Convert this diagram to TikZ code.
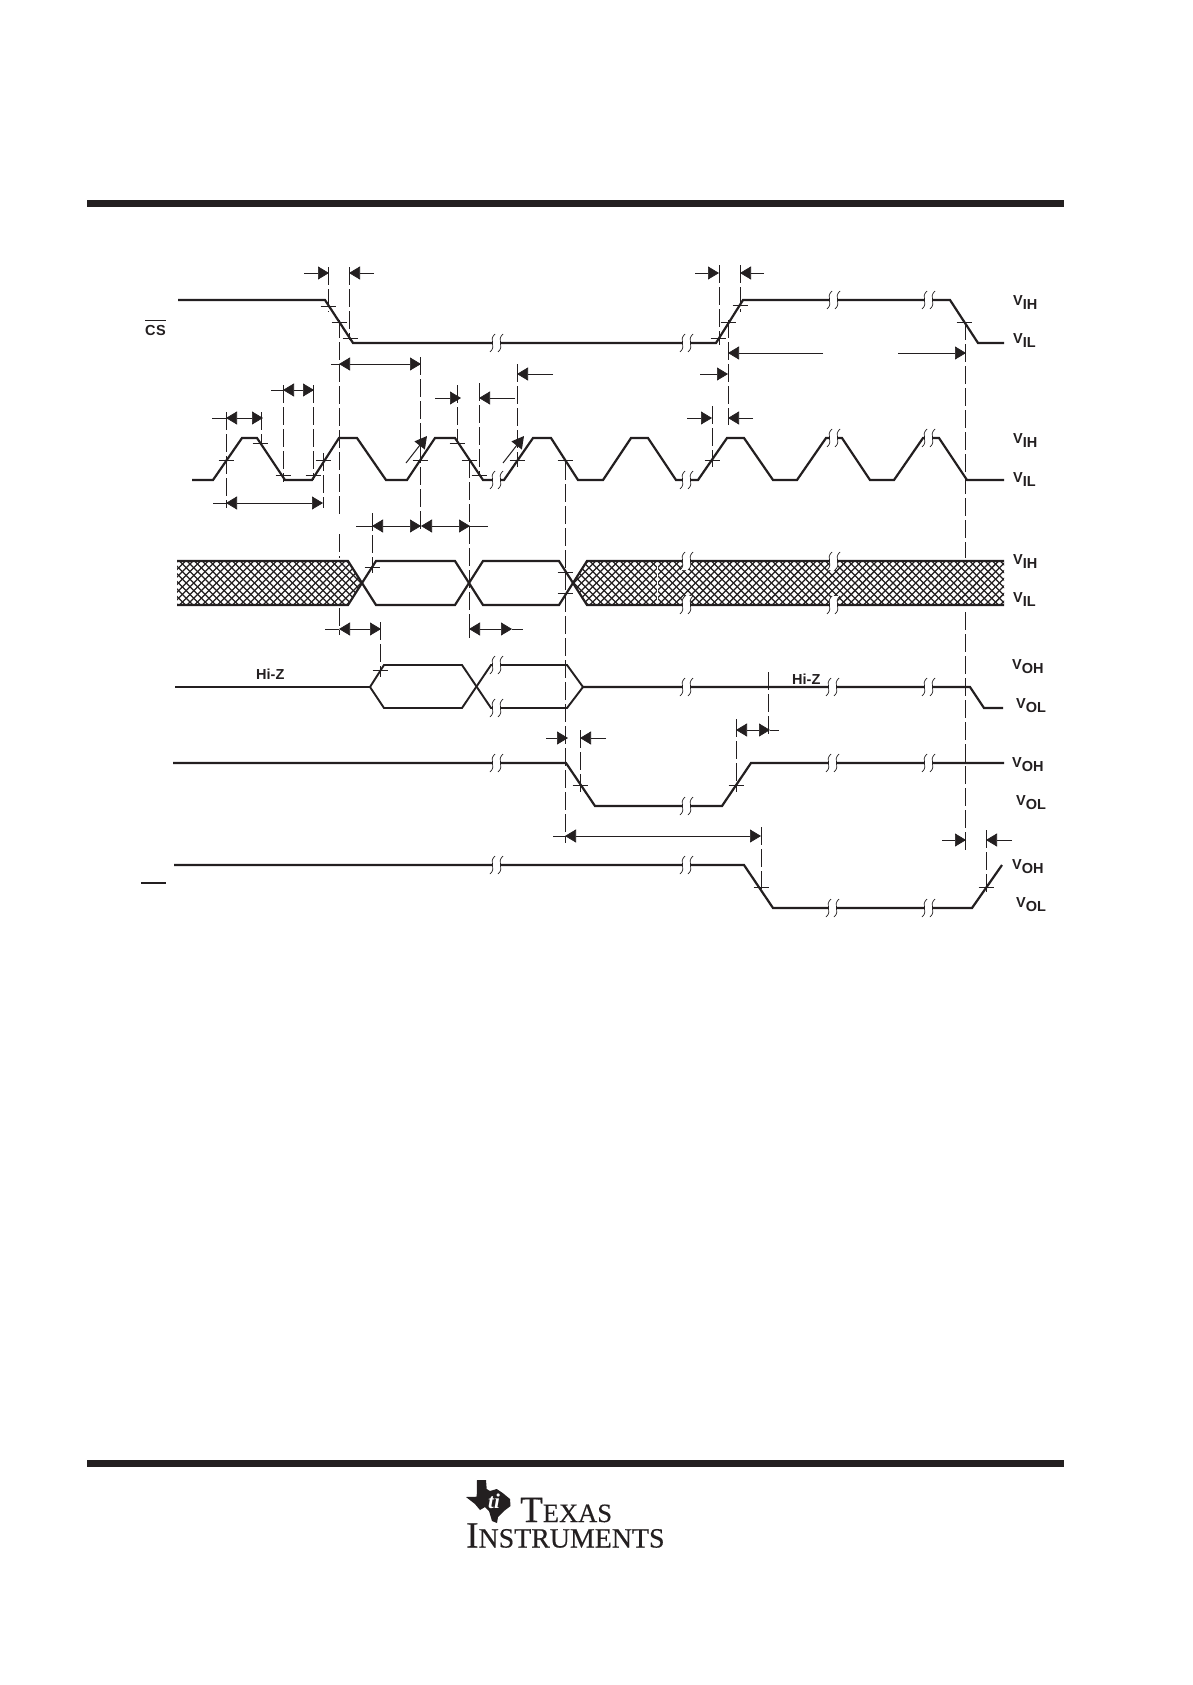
\documentclass[tikz,border=0pt]{standalone}
\usepackage{fontspec}
\setmainfont{Liberation Serif}
\setsansfont{Liberation Sans}
\newfontfamily\logofont[FakeBold=0.35]{Liberation Serif}
\usetikzlibrary{arrows.meta}
\definecolor{ink}{HTML}{231F20}
\tikzset{
  sig/.style={draw=ink,line width=2.2bp,line join=miter},
  thinsig/.style={draw=ink,line width=1.9bp},
  bar/.style={fill=ink,draw=none},
  guide/.style={draw=ink,line width=0.8bp,dash pattern=on 18bp off 4bp},
  dimr/.style={draw=ink,line width=0.7bp,-{Triangle[length=11bp,width=13bp]}},
  diml/.style={draw=ink,line width=0.7bp},
  tick/.style={draw=ink,line width=0.7bp},
  slant/.style={draw=ink,line width=1bp,-{Triangle[length=12bp,width=13bp]}},
  hatchline/.style={draw=ink,line width=1.25bp},
  lab/.style={anchor=base west,inner sep=0pt,font=\sffamily\bfseries\fontsize{14.5bp}{16bp}\selectfont,text=ink},
  logo/.style={anchor=base west,inner sep=0pt,text=ink}
}
% break mark
\newcommand{\brk}[2]{%
  \fill[white] (#1-7,#2+9) .. controls (#1,#2+3) and (#1-9,#2-3) .. (#1-2,#2-9)
    -- (#1+6,#2-9) .. controls (#1-1,#2-3) and (#1+8,#2+3) .. (#1+1,#2+9) -- cycle;
  \draw[draw=ink,line width=0.7bp] (#1-7,#2+9) .. controls (#1,#2+3) and (#1-9,#2-3) .. (#1-2,#2-9);
  \draw[draw=ink,line width=0.7bp] (#1+1,#2+9) .. controls (#1+8,#2+3) and (#1-1,#2-3) .. (#1+6,#2-9);
}
\newcommand{\tk}[2]{\draw[tick] (#1-7.5,#2) -- (#1+7.5,#2);}
\newcommand{\gd}[3]{\draw[guide] (#1,#2) -- (#1,#3);}
\newcommand{\dm}[3]{\draw[dimr] (#2,#1) -- (#3,#1);}
\newcommand{\vlab}[4]{\node[lab] (#1) at (#2,#3) {V\raisebox{-4.5bp}{#4}};}
\begin{document}
\begin{tikzpicture}[x=1bp,y=-1bp]
\useasboundingbox (0,0) rectangle (1192,1685);
\fill[white] (0,0) rectangle (1192,1685);
% page rules
\fill[bar] (87,200) rectangle (1064,207);
\fill[bar] (87,1460) rectangle (1064,1467);
% hatch
\begin{scope}
\clip (177,561) -- (348,561) -- (361,583) -- (348,605) -- (177,605) -- cycle
      (587,561) -- (1004,561) -- (1004,605) -- (587,605) -- (573,583) -- cycle;
\foreach \k in {0,...,130} {
  \draw[hatchline] (100+7.6*\k,550) -- ++(66,66);
  \draw[hatchline] (100+7.6*\k,616) -- ++(66,-66);
}
\draw[white,line width=1bp] (657,564) -- (657,602);
\end{scope}
% CS
\draw[sig] (178,300) -- (325,300) -- (353,343) -- (716,343) -- (743,300) -- (950,300) -- (978,343) -- (1004,343);
% CLK
\draw[sig] (192,480) -- (213,480) -- (242,438) -- (257,438) -- (285,480) -- (312,480) -- (339,438) -- (357,438) -- (386,480) -- (407,480) -- (435,438) -- (455,438) -- (483,480) -- (504,480) -- (533,438) -- (551,438) -- (578,480) -- (603,480) -- (631,438) -- (648,438) -- (676,480) -- (698,480) -- (727,438) -- (744,438) -- (773,480) -- (797,480) -- (826,438) -- (842,438) -- (870,480) -- (894,480) -- (923,438) -- (939,438) -- (967,480) -- (1004,480);
% DATA IN
\draw[sig] (177,561) -- (348,561) -- (376,605) -- (455,605) -- (483,561) -- (559,561) -- (587,605) -- (1004,605);
\draw[sig] (177,605) -- (348,605) -- (376,561) -- (455,561) -- (483,605) -- (559,605) -- (587,561) -- (1004,561);
% DATA OUT
\draw[thinsig] (175,687) -- (370,687) -- (384,665) -- (462,665) -- (491,708) -- (567,708) -- (583,687);
\draw[thinsig] (370,687) -- (384,708) -- (462,708) -- (491,665) -- (567,665) -- (583,687);
\draw[sig] (583,687) -- (970,687) -- (984,708) -- (1003,708);
% third output row
\draw[sig] (173,763) -- (566,763) -- (595,806) -- (722,806) -- (751,763) -- (1004,763);
% last row
\draw[sig] (174,865) -- (744,865) -- (773,908) -- (972,908) -- (1002,865);
% breaks
\brk{497}{343}\brk{687}{343}\brk{834}{300}\brk{929}{300}
\brk{497}{480}\brk{687}{480}\brk{834}{438}\brk{929}{438}
\brk{687}{561}\brk{687}{605}\brk{834}{561}\brk{834}{605}
\brk{497}{665}\brk{497}{708}\brk{687}{687}\brk{833}{687}\brk{929}{687}
\brk{497}{763}\brk{687}{806}\brk{833}{763}\brk{929}{763}
\brk{497}{865}\brk{687}{865}\brk{833}{908}\brk{929}{908}
% guides
\gd{328}{267}{312}\gd{349}{267}{340}\gd{420.5}{357}{533}
\gd{339}{320}{518}\gd{339}{534}{558}\gd{339}{608}{635}
\gd{283}{385}{482}\gd{313}{385}{480}\gd{226}{412}{508}\gd{261}{412}{443}\gd{323}{453}{508}
\gd{372}{513}{573}\gd{469}{460}{632}\gd{469}{620}{638}\gd{457}{385}{443}\gd{479}{383}{473}\gd{517}{364}{467}
\gd{565}{462}{843}\gd{719}{265}{345}\gd{740}{265}{312}\gd{728}{320}{425}
\gd{965.5}{322}{558}\gd{965.5}{612}{852}
\gd{712}{406}{467}\gd{380}{622}{677}\gd{580}{730}{793}\gd{761}{827}{893}\gd{736}{719}{792}
\gd{768}{672}{738}\gd{986}{830}{893}
% dimension arrows
\dm{273}{304}{329}\dm{273}{374}{349}
\dm{273}{695}{719}\dm{273}{764}{740}
\dm{364}{380}{339}\dm{364}{380}{421}\draw[diml] (331,364) -- (339,364);
\dm{390}{298}{283}\dm{390}{298}{314}\draw[diml] (271,390) -- (283,390);
\dm{418}{243}{226}\dm{418}{243}{263}\draw[diml] (212,418) -- (226,418);
\dm{503}{275}{226}\dm{503}{275}{323}\draw[diml] (213,503) -- (226,503);
\dm{526}{396}{372}\dm{526}{396}{421}\dm{526}{445}{421}\dm{526}{445}{470}
\draw[diml] (356,526) -- (372,526);\draw[diml] (470,526) -- (488,526);
\dm{398}{435}{461}\dm{398}{515}{479}
\dm{374}{553}{517}\dm{374}{700}{728}
\dm{353}{823}{728}\dm{353}{898}{966}
\dm{418}{687}{712}\dm{418}{753}{728}
\dm{629}{360}{339}\dm{629}{360}{381}\draw[diml] (325,629) -- (339,629);
\dm{629}{490}{469}\dm{629}{490}{512}\draw[diml] (512,629) -- (523,629);
\dm{738}{546}{568}\dm{738}{606}{580}
\dm{836}{660}{565}\dm{836}{660}{761}\draw[diml] (553,836) -- (565,836);
\dm{730}{752}{736}\dm{730}{752}{770}\draw[diml] (770,730) -- (779,730);
\dm{840}{942}{966}\dm{840}{1012}{986}
% slanted arrows
\draw[slant] (406,463) -- (427,436);
\draw[slant] (503,463) -- (524,436);
% ticks
\tk{328}{306}\tk{339}{322}\tk{350}{338}\tk{718}{338}\tk{728}{322}\tk{740}{305}\tk{964}{322}
\tk{226}{460}\tk{260}{443}\tk{283}{475}\tk{313}{475}\tk{323}{460}\tk{420}{460}\tk{457}{443}
\tk{469}{460}\tk{479}{475}\tk{517}{460}\tk{565}{460}\tk{712}{460}
\tk{372}{567}\tk{565}{572}\tk{565}{593}\tk{380}{670}
\tk{580}{785}\tk{736}{785}\tk{761}{887}\tk{986}{887}
% labels
\node[lab] (cs) at (145,335) {C\kern0.5bp S};
\draw[draw=ink,line width=1.2bp] (145,320.5) -- (166,320.5);
\draw[draw=ink,line width=1.2bp] (141,883) -- (166,883);
\node[lab] (hizl) at (256,679) {Hi-Z};
\node[lab] (hizr) at (792,684) {Hi-Z};
\vlab{a1}{1013}{305}{IH}\vlab{a2}{1013}{343}{IL}
\vlab{b1}{1013}{443}{IH}\vlab{b2}{1013}{482}{IL}
\vlab{c1}{1013}{564}{IH}\vlab{c2}{1013}{602}{IL}
\vlab{d1}{1012}{669}{OH}\vlab{d2}{1016}{708}{OL}
\vlab{e1}{1012}{767}{OH}\vlab{e2}{1016}{805}{OL}
\vlab{f1}{1012}{869}{OH}\vlab{f2}{1016}{907}{OL}
% logo
\fill[ink] (477,1480) -- (486,1480) -- (486.7,1489) -- (490,1491) -- (496.7,1489) -- (502.7,1493) -- (510,1499) -- (510.5,1506) -- (504,1511) -- (498,1517) -- (497,1523) -- (492,1521) -- (489,1511) -- (485,1507) -- (480,1510) -- (475,1504) -- (466,1497) -- (476.7,1496.7) -- cycle;
\node[inner sep=0pt,text=white,font=\bfseries\itshape\fontsize{21bp}{21bp}\selectfont] (ti) at (494,1501) {ti};
\node[logo] (tx) at (520,1522) {\logofont\fontsize{37bp}{37bp}\selectfont T\fontsize{26.5bp}{26.5bp}\selectfont EXAS};
\node[logo] (ins) at (466,1547.5) {\logofont\fontsize{37bp}{37bp}\selectfont I\fontsize{27.9bp}{27.9bp}\selectfont NSTRUMENTS};
\end{tikzpicture}
\end{document}
